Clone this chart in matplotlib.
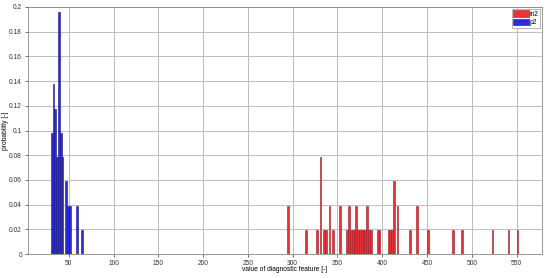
import numpy as np
import matplotlib
matplotlib.use("Agg")
import matplotlib.pyplot as plt

plt.rcParams["font.family"] = ["Liberation Sans", "DejaVu Sans"]

N = 51.0
bin_w = 2.0

# p2 histogram (left bin edges, counts out of 51)
p2_edges = [30, 32, 34, 36, 38, 40, 42, 46, 48, 50, 58, 64]
p2_counts = [5, 7, 6, 4, 10, 5, 4, 3, 2, 2, 2, 1]

# in2 histogram
in2_edges = [294, 314, 326, 330, 334, 336, 340, 344, 352, 360, 362, 364, 366, 368,
             370, 372, 374, 376, 378, 380, 382, 384, 386, 394, 396, 406, 408, 410,
             412, 416, 430, 438, 450, 478, 488, 522, 540, 550]
in2_counts = [2, 1, 1, 4, 1, 1, 2, 1, 2, 1, 2, 1, 1, 1,
              2, 1, 1, 1, 1, 1, 2, 1, 1, 1, 1, 1, 1, 1,
              3, 2, 1, 2, 1, 1, 1, 1, 1, 1]

xticks = [50, 100, 150, 200, 250, 300, 350, 400, 450, 500, 550]
yticks = np.arange(0, 0.201, 0.02)
ytick_labels = ["0", "0.02", "0.04", "0.06", "0.08", "0.1", "0.12", "0.14", "0.16", "0.18", "0.2"]

fig = plt.figure(figsize=(5.5, 2.78), dpi=100)
ax = fig.add_axes([0.05, 0.086, 0.935, 0.889])

ax.bar(in2_edges, np.array(in2_counts) / N, width=bin_w, align="edge",
       color="#e8323a", edgecolor="#a01820", linewidth=0.4, label="in2", zorder=3)
ax.bar(p2_edges, np.array(p2_counts) / N, width=bin_w, align="edge",
       color="#2b2bd8", edgecolor="#15158a", linewidth=0.4, label="p2", zorder=3)

ax.set_xlim(4, 578)
ax.set_ylim(0, 0.2)
ax.set_xticks(xticks)
ax.set_yticks(yticks)
ax.set_yticklabels(ytick_labels)
ax.grid(True, color="#bdbdbd", linewidth=0.7, zorder=0)
ax.set_axisbelow(True)
ax.tick_params(labelsize=4.8, length=2, width=0.5, colors="#333333", pad=2)
for s in ax.spines.values():
    s.set_color("#888888")
    s.set_linewidth(0.6)

ax.set_xlabel("value of diagnostic feature [-]", fontsize=4.8)
ax.xaxis.set_label_coords(0.5, -0.05)
ax.set_ylabel("probability [-]", fontsize=4.8)
ax.yaxis.set_label_coords(-0.036, 0.5)

leg = ax.legend(loc="upper right", fontsize=4.8, handlelength=2.4, handleheight=1.2,
                handletextpad=0.1, borderpad=0.2, labelspacing=0.1,
                borderaxespad=0.3, fancybox=False, framealpha=1)
leg.get_frame().set_edgecolor("#999999")
leg.get_frame().set_linewidth(0.5)

fig.savefig("out.png", dpi=100)
